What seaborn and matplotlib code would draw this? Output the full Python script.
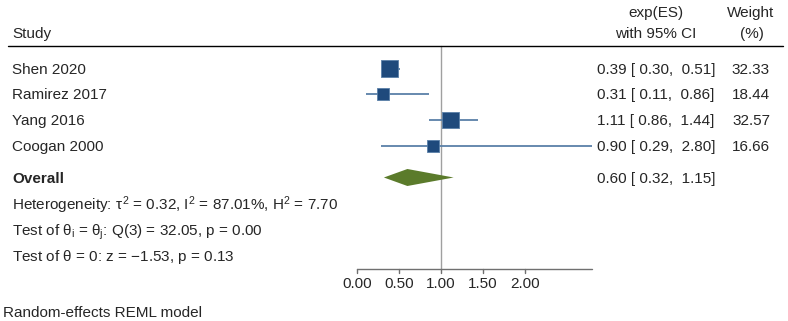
import matplotlib
matplotlib.use("Agg")
import matplotlib.pyplot as plt
import matplotlib.transforms as mtransforms
import seaborn as sns
import pandas as pd
import numpy as np

# ---- data ----
studies = ["Shen 2020", "Ramirez 2017", "Yang 2016", "Coogan 2000"]
es = [0.39, 0.31, 1.11, 0.90]
ci_low = [0.30, 0.11, 0.86, 0.29]
ci_high = [0.51, 0.86, 1.44, 2.80]
weights = [32.33, 18.44, 32.57, 16.66]
overall_es = 0.60
overall_low = 0.32
overall_high = 1.15
xticks = [0.00, 0.50, 1.00, 1.50, 2.00]
stats_lines = [
    r"Heterogeneity: $\tau^2$ = 0.32, I$^2$ = 87.01%, H$^2$ = 7.70",
    r"Test of $\theta_\mathregular{i}$ = $\theta_\mathregular{j}$: Q(3) = 32.05, p = 0.00",
    r"Test of $\theta$ = 0: z = $-$1.53, p = 0.13",
]
footnote = "Random-effects REML model"

sns.set_style("white")
plt.rcParams["font.family"] = ["Liberation Sans", "DejaVu Sans"]
plt.rcParams["mathtext.fontset"] = "custom"
plt.rcParams["mathtext.rm"] = "Liberation Sans"
plt.rcParams["mathtext.it"] = "Liberation Sans"
plt.rcParams["mathtext.sf"] = "Liberation Sans"

W, H = 788, 321
fig = plt.figure(figsize=(W / 100, H / 100), dpi=100)
ax = fig.add_axes([0, 0, 1, 1])
x0_px, unit_px = 357.0, 84.0

tx = mtransforms.blended_transform_factory(ax.transAxes, ax.transData)

def xt(xpix):
    return xpix / W

row_y = [68.5, 94, 120, 146]
over_y = 177.5
fs = 11
bl = 5.4  # baseline offset from visual centre (px)
col_navy = "#1f4a7c"
col_ci = "#5a80a8"
col_green = "#5b7b2b"

def txt(xp, yc, s, ha="left", **kw):
    ax.text(xt(xp), yc + bl, s, transform=tx, fontsize=fs, va="baseline", ha=ha, **kw)

# CI lines
ax.hlines(row_y, ci_low, ci_high, color=col_ci, lw=1.3, zorder=2)

# squares via seaborn
df = pd.DataFrame({"es": es, "y": row_y, "w": weights})
k = 4.45
sns.scatterplot(data=df, x="es", y="y", size="w", sizes=(min(weights) * k, max(weights) * k),
                size_norm=(min(weights), max(weights)), marker="s", color=col_navy,
                edgecolor=col_ci, linewidth=0.6, legend=False, ax=ax, zorder=3)
ax.set_xlabel("")
ax.set_ylabel("")
ax.set_xlim((0 - x0_px) / unit_px, (W - x0_px) / unit_px)
ax.set_ylim(H, 0)
ax.axis("off")

# header
txt(12, 33, "Study")
txt(656, 12, "exp(ES)", ha="center")
txt(656, 33, "with 95% CI", ha="center")
txt(751, 12, "Weight", ha="center")
txt(752, 33, "(%)", ha="center")
ax.plot([xt(8), xt(783)], [45.5, 45.5], transform=tx, color="black", lw=1.0)

# reference line at 1
ax.plot([1.0, 1.0], [45.5, 269], color="#a0a0a0", lw=1.0, zorder=1)

# overall diamond
ax.fill([overall_low, overall_es, overall_high, overall_es],
        [over_y, over_y - 8.5, over_y, over_y + 8.5], color=col_green, lw=0, zorder=3)

# study labels and values
for i, s in enumerate(studies):
    txt(12, row_y[i], s)
    txt(597, row_y[i], f"{es[i]:.2f} [ {ci_low[i]:.2f},  {ci_high[i]:.2f}]")
    txt(770, row_y[i], f"{weights[i]:.2f}", ha="right")

txt(12, over_y + 0.5, "Overall", fontweight="bold")
txt(597, over_y + 0.5, f"{overall_es:.2f} [ {overall_low:.2f},  {overall_high:.2f}]")

for j, line in enumerate(stats_lines):
    txt(12, 204.5 + 25.5 * j, line)

# x axis
ax.plot([0, max(ci_high)], [269, 269], color="#707070", lw=1.0)
for t in xticks:
    ax.plot([t, t], [269, 273], color="#707070", lw=1.0)
    ax.text(t, 283 + bl, f"{t:.2f}", fontsize=fs, va="baseline", ha="center")

txt(3, 311.5, footnote)

fig.savefig("out.png", dpi=100)
